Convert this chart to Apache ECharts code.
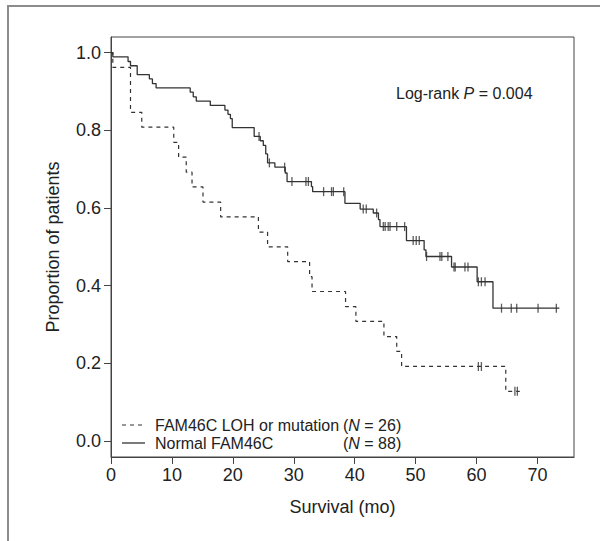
<!DOCTYPE html>
<html>
<head>
<meta charset="utf-8">
<script src="https://cdn.jsdelivr.net/npm/echarts@6/dist/echarts.min.js"></script>
<style>
html,body{margin:0;padding:0;background:#fff;}
#chart{width:600px;height:541px;}
</style>
</head>
<body>
<div id="chart"></div>
<script>
// ---- Data ----
// Normal FAM46C (N = 88): event times (months) and survival after each step
const normalTime = [0, 0.3, 2.8, 3.2, 4.3, 6.3, 6.8, 7.4, 13.0, 13.5, 14.0, 16.3, 18.7, 19.2, 19.6, 19.9, 23.5, 24.5, 25.0, 25.4, 25.7, 26.9, 28.6, 28.9, 32.9, 33.1, 38.4, 40.9, 43.05, 43.9, 44.15, 48.5, 51.4, 51.7, 55.9, 60.1, 62.7, 73.6];
const normalSurv = [1, 0.989, 0.977, 0.966, 0.943, 0.932, 0.920, 0.909, 0.898, 0.886, 0.875, 0.864, 0.852, 0.841, 0.830, 0.807, 0.784, 0.773, 0.761, 0.739, 0.716, 0.705, 0.690, 0.668, 0.655, 0.642, 0.612, 0.597, 0.587, 0.570, 0.552, 0.516, 0.492, 0.475, 0.448, 0.410, 0.342, 0.342];
const normalCensor = [24.3, 26.0, 28.5, 29.7, 32.0, 32.4, 34.9, 36.2, 36.5, 38.2, 41.4, 41.9, 43.6, 44.7, 45.0, 45.5, 45.8, 46.9, 48.2, 49.6, 50.1, 50.6, 51.8, 54.0, 54.3, 55.3, 56.3, 56.5, 58.1, 58.6, 60.3, 60.8, 61.4, 64.1, 65.7, 66.6, 70.1, 73.1];

// FAM46C LOH or mutation (N = 26)
const mutTime = [0, 0.3, 3.2, 5.05, 10.3, 11.1, 12.35, 13.3, 15.1, 18.0, 24.2, 25.7, 29.0, 32.6, 33.0, 38.5, 40.2, 44.8, 46.9, 47.7, 64.8, 67.1];
const mutSurv = [1, 0.962, 0.846, 0.808, 0.769, 0.731, 0.692, 0.654, 0.615, 0.577, 0.538, 0.500, 0.462, 0.423, 0.385, 0.346, 0.308, 0.269, 0.231, 0.192, 0.128, 0.128];
const mutCensor = [60.3, 60.8, 66.3, 66.7];

const xTicks = [0, 10, 20, 30, 40, 50, 60, 70];
const yTicks = [0, 0.2, 0.4, 0.6, 0.8, 1.0];

const legendLabels = ['FAM46C LOH or mutation', 'Normal FAM46C'];
const legendN = [26, 88];
const pText = '0.004';

// ---- helpers ----
function pairs(t, s) { return t.map((v, i) => [v, s[i]]); }
function stepAt(t, s, x) {
  let v = s[0];
  for (let i = 0; i < t.length; i++) { if (t[i] <= x) v = s[i]; }
  return v;
}
function censorPts(ct, t, s) { return ct.map(x => [x, stepAt(t, s, x)]); }

const FONT = '"Liberation Sans", Arial, Helvetica, sans-serif';
const INK = '#333';

const chart = echarts.init(document.getElementById('chart'), null, {renderer: 'svg'});
chart.setOption({
  animation: false,
  backgroundColor: '#fff',
  textStyle: {fontFamily: FONT},
  grid: {left: 111, top: 37, width: 463, height: 420, show: true, borderColor: '#444', borderWidth: 1, containLabel: false},
  xAxis: {
    type: 'value', min: 0, max: 76,
    axisLine: {show: true, onZero: false, lineStyle: {color: '#444', width: 1}},
    axisTick: {show: true, length: 7, customValues: xTicks, lineStyle: {color: '#444'}},
    axisLabel: {customValues: xTicks, fontSize: 18, color: '#222', margin: 9, fontFamily: FONT},
    splitLine: {show: false},
    name: 'Survival (mo)', nameLocation: 'middle', nameGap: 41,
    nameTextStyle: {fontSize: 18, color: '#222', fontFamily: FONT}
  },
  yAxis: {
    type: 'value', min: -0.041, max: 1.04,
    axisLine: {show: true, onZero: false, lineStyle: {color: '#444', width: 1}},
    axisTick: {show: true, length: 7, customValues: yTicks, lineStyle: {color: '#444'}},
    axisLabel: {customValues: yTicks, fontSize: 18, color: '#222', margin: 10, fontFamily: FONT,
      formatter: v => v.toFixed(1)},
    splitLine: {show: false},
    name: 'Proportion of patients', nameLocation: 'middle', nameGap: 49,
    nameTextStyle: {fontSize: 18, color: '#222', fontFamily: FONT}
  },
  series: [
    {
      name: legendLabels[0], type: 'line', step: 'end', symbol: 'none',
      data: pairs(mutTime, mutSurv),
      lineStyle: {color: INK, width: 1.2, type: [4, 4]}
    },
    {
      name: legendLabels[1], type: 'line', step: 'end', symbol: 'none',
      data: pairs(normalTime, normalSurv),
      lineStyle: {color: INK, width: 1.3, type: 'solid'}
    },
    {
      type: 'scatter', symbol: 'rect', symbolSize: [1.3, 9],
      data: censorPts(mutCensor, mutTime, mutSurv),
      itemStyle: {color: INK}
    },
    {
      type: 'scatter', symbol: 'rect', symbolSize: [1.3, 9],
      data: censorPts(normalCensor, normalTime, normalSurv),
      itemStyle: {color: INK}
    }
  ],
  graphic: [
    // outer grey frame (top and left edges)
    {type: 'line', shape: {x1: 7, y1: 6, x2: 600, y2: 6}, style: {stroke: '#8c8c8c', lineWidth: 2}, silent: true},
    {type: 'line', shape: {x1: 8, y1: 5, x2: 8, y2: 541}, style: {stroke: '#8c8c8c', lineWidth: 2}, silent: true},
    // log-rank annotation
    {type: 'text', left: 396, top: 85, style: {
      text: '{a|Log-rank }{b|P}{a| = ' + pText + '}',
      rich: {a: {fontSize: 16, fill: '#222', fontFamily: FONT}, b: {fontSize: 16, fill: '#222', fontStyle: 'italic', fontFamily: FONT}}
    }},
    // legend
    {type: 'line', shape: {x1: 122, y1: 425, x2: 145, y2: 425}, style: {stroke: INK, lineWidth: 1.2, lineDash: [4, 4]}},
    {type: 'line', shape: {x1: 122, y1: 443, x2: 145, y2: 443}, style: {stroke: INK, lineWidth: 1.3}},
    {type: 'text', x: 155, y: 425, style: {text: legendLabels[0], fontSize: 16, fill: '#222', fontFamily: FONT, verticalAlign: 'middle'}},
    {type: 'text', x: 155, y: 443, style: {text: legendLabels[1], fontSize: 16, fill: '#222', fontFamily: FONT, verticalAlign: 'middle'}},
    {type: 'text', x: 343, y: 425, style: {
      text: '{a|(}{b|N}{a| = ' + legendN[0] + ')}', verticalAlign: 'middle',
      rich: {a: {fontSize: 16, fill: '#222', fontFamily: FONT}, b: {fontSize: 16, fill: '#222', fontStyle: 'italic', fontFamily: FONT}}
    }},
    {type: 'text', x: 343, y: 443, style: {
      text: '{a|(}{b|N}{a| = ' + legendN[1] + ')}', verticalAlign: 'middle',
      rich: {a: {fontSize: 16, fill: '#222', fontFamily: FONT}, b: {fontSize: 16, fill: '#222', fontStyle: 'italic', fontFamily: FONT}}
    }}
  ]
});
</script>
</body>
</html>
